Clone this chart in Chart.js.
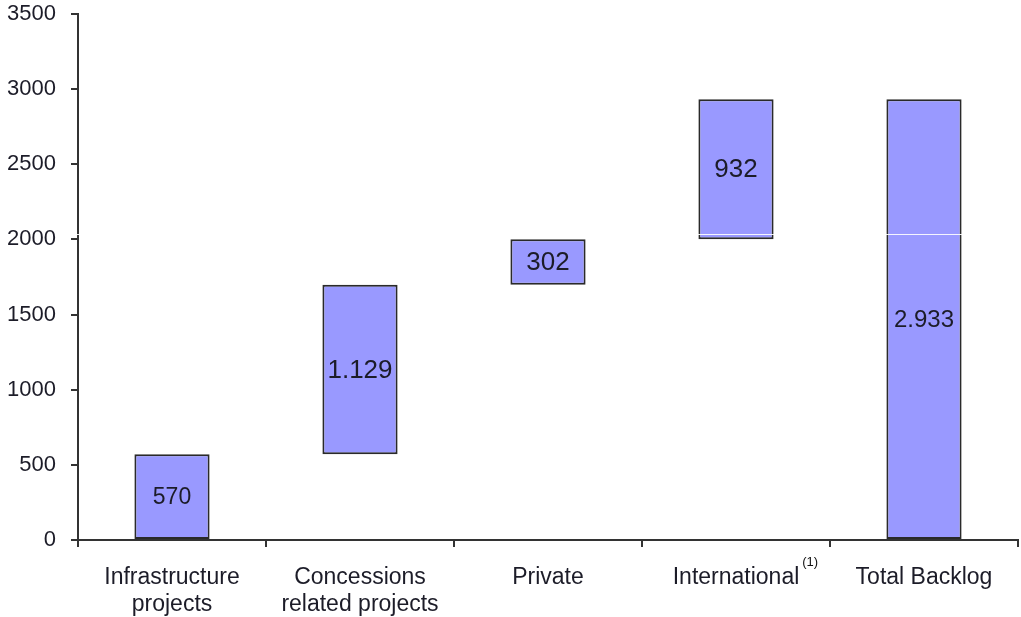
<!DOCTYPE html>
<html>
<head>
<meta charset="utf-8">
<script src="https://cdn.jsdelivr.net/npm/chart.js@4/dist/chart.umd.min.js"></script>
<style>
  html, body { margin: 0; padding: 0; background: #ffffff; }
  #wrap { width: 1021px; height: 617px; }
</style>
</head>
<body>
<div id="wrap"><canvas id="c" width="1021" height="617"></canvas></div>
<script>
// ---- data ----
const categories = [
  ['Infrastructure', 'projects'],
  ['Concessions', 'related projects'],
  'Private',
  'International',
  'Total Backlog'
];
const increments = [570, 1129, 302, 932];   // waterfall steps
const totalBacklog = 2933;                    // total bar
const valueLabels = ['570', '1.129', '302', '932', '2.933'];
const yTicks = [0, 500, 1000, 1500, 2000, 2500, 3000, 3500];
const footnoteMark = '(1)';

// floating bars built from the steps
const floating = [];
let run = 0;
for (const v of increments) { floating.push([run, run + v]); run += v; }
floating.push([0, totalBacklog]);

const FONT = "'Liberation Sans', Arial, sans-serif";
const TEXT = '#1c1c28';
const AXIS = '#333333';
const LABEL_SIZES = [23, 26, 26, 26, 24];

const labelPlugin = {
  id: 'labels',
  afterDatasetsDraw(chart) {
    const ctx = chart.ctx;
    const meta = chart.getDatasetMeta(0);
    const area = chart.chartArea;
    // faint white line artifact across the plot
    const yw = chart.scales.y.getPixelForValue(2035);
    ctx.save();
    ctx.strokeStyle = 'rgba(255,255,255,0.9)';
    ctx.lineWidth = 1;
    ctx.beginPath();
    ctx.moveTo(area.left - 8, Math.round(yw) + 0.5);
    ctx.lineTo(area.right, Math.round(yw) + 0.5);
    ctx.stroke();
    ctx.restore();

    ctx.save();
    ctx.fillStyle = TEXT;
    ctx.textAlign = 'center';
    ctx.textBaseline = 'middle';
    meta.data.forEach((el, i) => {
      ctx.font = LABEL_SIZES[i] + 'px ' + FONT;
      ctx.fillText(valueLabels[i], el.x, (el.y + el.base) / 2 + 1);
    });
    // footnote mark next to "International"
    const xs = chart.scales.x;
    const px = xs.getPixelForValue(3);
    ctx.font = '23px ' + FONT;
    const w = ctx.measureText('International').width;
    ctx.font = '13px ' + FONT;
    ctx.textAlign = 'left';
    ctx.fillStyle = '#111';
    ctx.fillText(footnoteMark, px + w / 2 + 3, area.bottom + 22);
    ctx.restore();
  }
};

new Chart(document.getElementById('c'), {
  type: 'bar',
  data: {
    labels: categories,
    datasets: [{
      data: floating,
      backgroundColor: '#9999ff',
      borderColor: '#2a2a2a',
      borderWidth: 2,
      borderSkipped: false,
      barPercentage: 0.4,
      categoryPercentage: 1.0
    }]
  },
  options: {
    responsive: false,
    animation: false,
    layout: { padding: { top: 14, right: 3, left: 0, bottom: 0 } },
    plugins: { legend: { display: false }, tooltip: { enabled: false } },
    scales: {
      x: {
        afterFit(s) { s.height = 77; s.paddingTop = 0; s.paddingBottom = 0; },
        grid: { display: true, drawOnChartArea: false, offset: true, tickLength: 7, color: AXIS, lineWidth: 2 },
        border: { display: true, color: AXIS, width: 2 },
        ticks: { color: TEXT, font: { family: FONT, size: 23, lineHeight: '27px' }, padding: 17, maxRotation: 0, autoSkip: false }
      },
      y: {
        min: 0, max: 3500,
        afterFit(s) { s.width = 78; s.paddingTop = 0; s.paddingBottom = 0; },
        afterBuildTicks(s) { s.ticks = yTicks.map(v => ({ value: v })); },
        grid: { display: true, drawOnChartArea: false, tickLength: 7, color: AXIS, lineWidth: 2 },
        border: { display: true, color: AXIS, width: 2 },
        ticks: { color: TEXT, font: { family: FONT, size: 22 }, padding: 15, callback: v => String(v) }
      }
    }
  },
  plugins: [labelPlugin]
});
</script>
</body>
</html>
